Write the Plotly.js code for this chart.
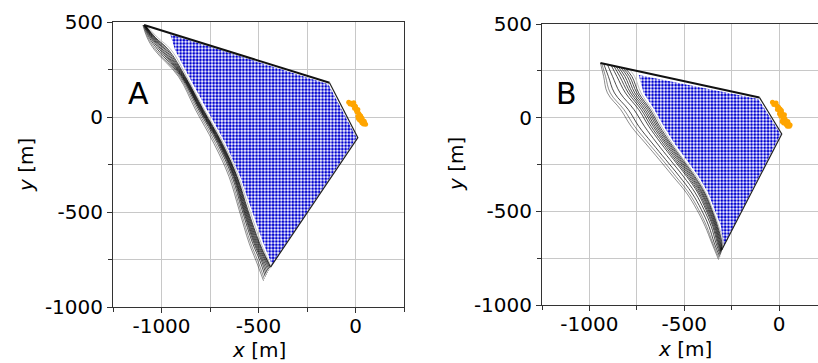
<!DOCTYPE html>
<html>
<head>
<meta charset="utf-8">
<script src="https://cdn.plot.ly/plotly-3.0.1.min.js"></script>
<style>html,body{margin:0;padding:0;background:#fff;}#chart{width:818px;height:363px;}</style>
</head>
<body>
<div id="chart"></div>
<script>
// ---------- Panel A data ----------
const levelsA = [484, 420, 353, 212, 37, -139, -314, -489, -665, -753];
const curvesAx = [
  [-1096, -1075, -1036, -912, -824, -730, -652, -600, -548, -514],
  [-1094, -1070, -1028, -906, -816, -721, -644, -593, -540, -505],
  [-1092, -1064, -1018, -900, -808, -712, -636, -585, -530, -494],
  [-1090, -1058, -1008, -895, -802, -706, -630, -579, -523, -486],
  [-1089, -1053, -1000, -892, -799, -702, -626, -575, -518, -480],
  [-1088, -1049, -993, -889, -796, -699, -623, -571, -513, -474],
  [-1087, -1045, -985, -886, -793, -696, -620, -567, -508, -468],
  [-1086, -1041, -978, -883, -790, -693, -616, -563, -503, -463],
  [-1085, -1037, -970, -880, -787, -690, -613, -559, -498, -458],
  [-1084, -1033, -963, -877, -784, -687, -610, -555, -494, -455]
];
const curvesAendX = [-474, -470, -465, -460, -455, -450, -446, -442, -439, -438];
const curvesAendY = [-862, -852, -840, -830, -820, -810, -802, -796, -791, -789];
const lightAx = [-1080, -1022, -950, -870, -778, -680, -603, -546, -486, -450, -436];
const lightAy = [484, 420, 353, 212, 37, -139, -314, -489, -665, -753, -786];
const outlineAx = [-1090, -134, 12, -438];
const outlineAy = [484, 180, -109, -790];
const blueAx = [-955, -140, 6, -432, -440, -475, -535, -594, -670, -766, -858, -930, -955];
const blueAy = [436, 172, -109, -780, -753, -665, -489, -314, -139, 37, 212, 353, 436];
const orangeAx = [-35,-22,-14,-9,0,-5,4,12,7,17,21,12,24,29,34,38,46,52,41,33,21,27,-28,-2,10,28,45,15];
const orangeAy = [77,72,63,75,54,46,37,40,28,19,11,2,-2,-12,-7,-25,-30,-38,-37,-30,-16,5,68,58,30,-20,-22,-8];

// ---------- Panel B data ----------
const levelsB = [220, 132, 43, -46, -135, -224, -313, -402, -491, -580, -669];
const curvesBstartX = [-942, -935, -925, -905, -885, -872, -860, -848, -836, -824, -812];
const curvesBstartY = [292, 290, 288, 284, 279, 277, 274, 271, 269, 266, 264];
const curvesBx = [
  [-925, -905, -835, -780, -706, -632, -560, -488, -434, -390, -355],
  [-915, -890, -818, -762, -690, -616, -545, -476, -424, -382, -350],
  [-900, -868, -795, -740, -670, -598, -526, -460, -410, -370, -342],
  [-878, -838, -765, -710, -645, -575, -505, -442, -396, -358, -333],
  [-855, -810, -740, -687, -624, -556, -488, -428, -386, -350, -326],
  [-840, -795, -727, -675, -613, -547, -480, -421, -380, -345, -321],
  [-826, -783, -716, -664, -603, -538, -472, -414, -374, -340, -317],
  [-813, -772, -706, -655, -595, -530, -465, -408, -369, -336, -313],
  [-800, -761, -696, -646, -587, -523, -458, -403, -364, -332, -309],
  [-788, -750, -687, -638, -580, -516, -451, -397, -359, -328, -305],
  [-776, -740, -679, -630, -573, -509, -445, -392, -355, -324, -301]
];
const curvesBendX = [-319, -316, -313, -310, -308, -306, -305, -304, -303, -302, -302];
const curvesBendY = [-758, -750, -742, -734, -727, -721, -716, -712, -709, -706, -704];
const lightBx = [-790, -762, -728, -670, -620, -565, -503, -437, -386, -350, -318, -294, -300];
const lightBy = [259, 220, 132, 43, -46, -135, -224, -313, -402, -491, -580, -669, -703];
const outlineBx = [-942, -104, 14, -302];
const outlineBy = [292, 108, -87, -705];
const blueBx = [-740, -110, 8, -294, -306, -338, -374, -425, -491, -553, -608, -658, -714, -740];
const blueBy = [228, 100, -87, -690, -580, -491, -402, -313, -224, -135, -46, 43, 132, 228];
const orangeBx = [-35,-21,-12,-4,-9,5,2,14,9,23,19,32,40,37,49,54,44,28,5,16,58,-16,-28,-2,12,30,46,24];
const orangeBy = [82,75,64,57,43,34,21,25,7,-2,-14,-11,-25,-37,-32,-46,-46,16,46,-20,-39,78,70,52,38,-5,-20,-28];

const panelLabels = ['A', 'B'];
const xTicks = [-1000, -500, 0];
const xTickText = ['-1000', '-500', '0'];
const yTicks = [-1000, -500, 0, 500];
const yTickText = ['-1000', '-500', '0', '500'];

// ---------- Build traces ----------
const traces = [];
function addPanel(xa, ya, blueX, blueY, curves, lightX, lightY, outX, outY, orX, orY) {
  traces.push({x: blueX, y: blueY, xaxis: xa, yaxis: ya, type: 'scatter', mode: 'lines',
    fill: 'toself', fillcolor: 'white', line: {width: 0, color: 'rgba(0,0,0,0)'},
    fillpattern: {shape: '.', fgcolor: '#0000d0', bgcolor: 'white', size: 3.3, solidity: 0.55},
    hoverinfo: 'skip', showlegend: false});
  traces.push({x: lightX, y: lightY, xaxis: xa, yaxis: ya, type: 'scatter', mode: 'lines',
    line: {width: 1, color: '#c0c0c0', shape: 'spline', smoothing: 1.1}, hoverinfo: 'skip', showlegend: false});
  curves.forEach((c, i) => traces.push({x: c.x, y: c.y, xaxis: xa, yaxis: ya, type: 'scatter', mode: 'lines',
    line: {width: 0.9, color: i < 2 ? 'rgba(0,0,0,0.5)' : 'rgba(0,0,0,0.78)', shape: 'spline', smoothing: 1.1},
    hoverinfo: 'skip', showlegend: false}));
  traces.push({x: outX.slice(0, 2), y: outY.slice(0, 2), xaxis: xa, yaxis: ya, type: 'scatter', mode: 'lines',
    line: {width: 2, color: '#111'}, hoverinfo: 'skip', showlegend: false});
  traces.push({x: outX.slice(1), y: outY.slice(1), xaxis: xa, yaxis: ya, type: 'scatter', mode: 'lines',
    line: {width: 1.2, color: '#222'}, hoverinfo: 'skip', showlegend: false});
  traces.push({x: orX, y: orY, xaxis: xa, yaxis: ya, type: 'scatter', mode: 'markers',
    marker: {size: 5, color: '#ffa500'}, hoverinfo: 'skip', showlegend: false});
}

const curvesA = curvesAx.map((row, i) => ({
  x: row.concat([curvesAendX[i]]),
  y: levelsA.concat([curvesAendY[i]])
}));
const curvesB = curvesBx.map((row, i) => ({
  x: [curvesBstartX[i]].concat(row, [curvesBendX[i]]),
  y: [curvesBstartY[i]].concat(levelsB, [curvesBendY[i]])
}));

addPanel('x', 'y', blueAx, blueAy, curvesA, lightAx, lightAy, outlineAx, outlineAy, orangeAx, orangeAy);
addPanel('x2', 'y2', blueBx, blueBy, curvesB, lightBx, lightBy, outlineBx, outlineBy, orangeBx, orangeBy);

const W = 818, H = 363;
const font = {family: 'DejaVu Sans, sans-serif', size: 20, color: '#000'};
function axisCommon(extra) {
  return Object.assign({
    showline: true, linecolor: '#333', linewidth: 1,
    ticks: 'outside', ticklen: 5, tickwidth: 1, tickcolor: '#333',
    showgrid: true, gridcolor: '#c8c8c8', gridwidth: 1, zeroline: false,
    tickfont: font, fixedrange: true, tickmode: 'array',
    minor: {dtick: 250, tick0: 0, ticks: 'outside', ticklen: 4, tickcolor: '#333', showgrid: true, gridcolor: '#c8c8c8', gridwidth: 1}
  }, extra);
}

const layout = {
  width: W, height: H,
  margin: {l: 0, r: 0, t: 0, b: 0},
  paper_bgcolor: 'white', plot_bgcolor: 'white',
  font: font,
  showlegend: false,
  xaxis: axisCommon({domain: [113 / W, 404 / W], range: [-1250, 250], tickvals: xTicks, ticktext: xTickText, ticklabelstandoff: -4, mirror: true, anchor: 'y'}),
  yaxis: axisCommon({domain: [(H - 307) / H, (H - 22) / H], range: [-1000, 500], tickvals: yTicks, ticktext: yTickText, mirror: true, anchor: 'x'}),
  xaxis2: axisCommon({domain: [542 / W, 1], range: [-1250, 205], tickvals: xTicks, ticktext: xTickText, ticklabelstandoff: -4, mirror: true, anchor: 'y2'}),
  yaxis2: axisCommon({domain: [(H - 305) / H, (H - 24) / H], range: [-1000, 500], tickvals: yTicks, ticktext: yTickText, mirror: false, anchor: 'x2'}),
  annotations: [
    {text: panelLabels[0], x: 138 / W, y: 1 - 93 / H, xref: 'paper', yref: 'paper', xanchor: 'center', yanchor: 'middle', showarrow: false, font: {family: 'DejaVu Sans, sans-serif', size: 30, color: '#000'}},
    {text: panelLabels[1], x: 566 / W, y: 1 - 94 / H, xref: 'paper', yref: 'paper', xanchor: 'center', yanchor: 'middle', showarrow: false, font: {family: 'DejaVu Sans, sans-serif', size: 30, color: '#000'}},
    {text: '<i>x</i> [m]', x: 259 / W, y: 1 - 350 / H, xref: 'paper', yref: 'paper', xanchor: 'center', yanchor: 'middle', showarrow: false, font: font},
    {text: '<i>x</i> [m]', x: 685 / W, y: 1 - 349 / H, xref: 'paper', yref: 'paper', xanchor: 'center', yanchor: 'middle', showarrow: false, font: font},
    {text: '<i>y</i> [m]', x: 26 / W, y: 1 - 165 / H, xref: 'paper', yref: 'paper', xanchor: 'center', yanchor: 'middle', showarrow: false, textangle: -90, font: font},
    {text: '<i>y</i> [m]', x: 456 / W, y: 1 - 164 / H, xref: 'paper', yref: 'paper', xanchor: 'center', yanchor: 'middle', showarrow: false, textangle: -90, font: font}
  ]
};

Plotly.newPlot('chart', traces, layout, {staticPlot: true, displayModeBar: false});
</script>
</body>
</html>
